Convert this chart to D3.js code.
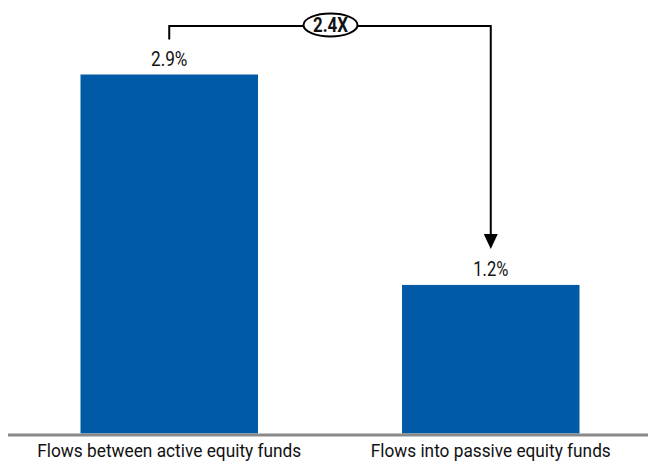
<!DOCTYPE html>
<html>
<head>
<meta charset="utf-8">
<script src="https://cdn.jsdelivr.net/npm/d3@7"></script>
<style>
  html, body { margin: 0; padding: 0; background: #fff; }
  svg { display: block; }
  text { font-family: Roboto, "Liberation Sans", sans-serif; fill: #111; }
</style>
</head>
<body>
<svg id="chart" width="648" height="462"></svg>
<script>
// Chart data
const categories = ["Flows between active equity funds", "Flows into passive equity funds"];
const values = [2.9, 1.2];
const valueLabels = ["2.9%", "1.2%"];
const ratioLabel = "2.4X";

const svg = d3.select("#chart");

const x = d3.scaleBand()
  .domain(categories)
  .range([8, 652])
  .paddingInner(0.448)
  .paddingOuter(0.2255);

const y = d3.scaleLinear()
  .domain([0, 2.9])
  .range([433.5, 74.5]);

// Bars
svg.append("g").selectAll("rect")
  .data(categories)
  .join("rect")
  .attr("x", d => x(d))
  .attr("width", x.bandwidth())
  .attr("y", (d, i) => y(values[i]))
  .attr("height", (d, i) => y(0) - y(values[i]))
  .attr("fill", "#005aa6");

// Baseline axis with category labels
const xAxis = svg.append("g")
  .attr("transform", `translate(0,${y(0) + 1.5})`)
  .call(d3.axisBottom(x).tickSize(0));
xAxis.select(".domain")
  .attr("d", "M8,0H648")
  .attr("stroke", "#8a8a8a")
  .attr("stroke-width", 3);
xAxis.selectAll(".tick text")
  .attr("y", 21.5)
  .attr("dy", null)
  .attr("font-size", 18)
  .attr("fill", "#111")
  .style("font-family", "Roboto, sans-serif")
  .attr("lengthAdjust", "spacingAndGlyphs")
  .attr("textLength", (d, i) => i === 0 ? 264 : 240);

// Value labels
svg.append("g").selectAll("text")
  .data(categories)
  .join("text")
  .attr("x", d => x(d) + x.bandwidth() / 2)
  .attr("y", (d, i) => y(values[i]) - 9)
  .attr("text-anchor", "middle")
  .attr("font-size", 20)
  .attr("textLength", (d, i) => i === 0 ? 36.5 : 35)
  .attr("lengthAdjust", "spacingAndGlyphs")
  .text((d, i) => valueLabels[i]);

// Comparison bracket with arrow
const cx0 = x(categories[0]) + x.bandwidth() / 2;
const cx1 = x(categories[1]) + x.bandwidth() / 2;
const topY = 26;
const arrowTip = y(values[1]) - 36;

svg.append("path")
  .attr("d", `M${cx0},${y(values[0]) - 35}V${topY}H${cx1}V${arrowTip - 15}`)
  .attr("fill", "none")
  .attr("stroke", "#000")
  .attr("stroke-width", 2);

svg.append("path")
  .attr("d", `M${cx1 - 7},${arrowTip - 15}L${cx1 + 7},${arrowTip - 15}L${cx1},${arrowTip}Z`)
  .attr("fill", "#000");

const midX = 330.5;
svg.append("ellipse")
  .attr("cx", midX).attr("cy", 25)
  .attr("rx", 27).attr("ry", 11.5)
  .attr("fill", "#fff")
  .attr("stroke", "#000")
  .attr("stroke-width", 2);

svg.append("text")
  .attr("x", midX).attr("y", 32)
  .attr("text-anchor", "middle")
  .attr("font-size", 20)
  .attr("font-weight", "bold")
  .attr("textLength", 35)
  .attr("lengthAdjust", "spacingAndGlyphs")
  .text(ratioLabel);
</script>
</body>
</html>
